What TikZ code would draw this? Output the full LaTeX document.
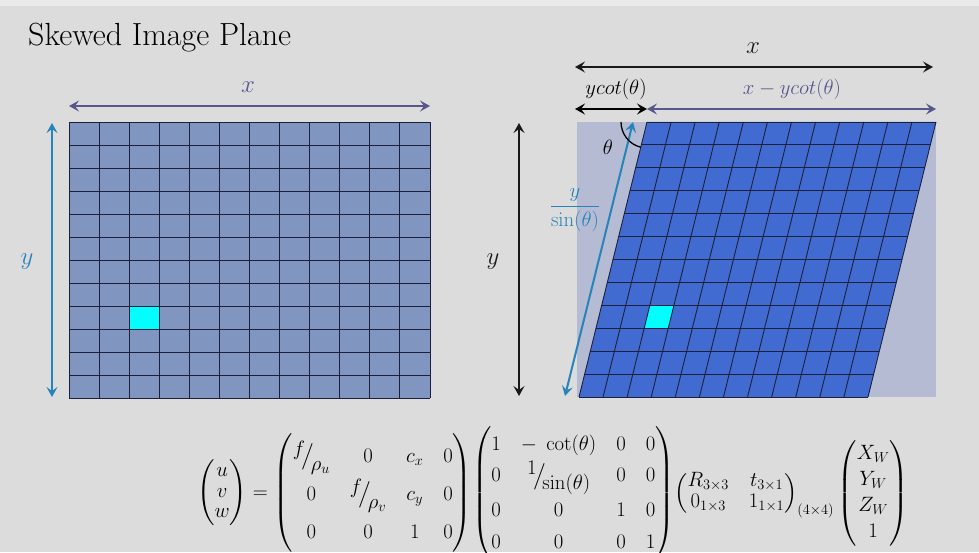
\documentclass[tikz,border=0pt]{standalone}
\usepackage{amsmath,amssymb}
\usepackage{tikz}
\usetikzlibrary{arrows.meta}
\definecolor{bgpage}{RGB}{220,220,220}
\definecolor{topband}{RGB}{234,234,234}
\definecolor{plainpix}{RGB}{128,150,192}
\definecolor{skewpix}{RGB}{66,107,210}
\definecolor{sensorbg}{RGB}{181,187,210}
\definecolor{hotpix}{RGB}{0,255,255}
\definecolor{gridline}{RGB}{28,32,58}
\definecolor{dimpurple}{RGB}{88,86,140}
\definecolor{dimblue}{RGB}{38,132,186}
\definecolor{dimblack}{RGB}{25,25,25}
\newcommand{\slashfrac}[2]{\raisebox{0.32em}{$#1$}\!\big/\!\raisebox{-0.38em}{$#2$}}

\begin{document}
\begin{tikzpicture}[x=1pt,y=-1pt,font=\fontsize{24}{28}\selectfont,
  dim/.style={line width=2pt,{Stealth[length=10pt,width=11pt,inset=4pt]}-{Stealth[length=10pt,width=11pt,inset=4pt]}},
  pixline/.style={draw=gridline,line width=0.9pt}]
\fill[bgpage] (0,0) rectangle (979,552);
\useasboundingbox (0,0) rectangle (979,552);
\fill[topband] (0,0) rectangle (979,6);
\node[anchor=base west, inner sep=0pt, font=\fontsize{32}{35}\selectfont] (title) at (28,45) {Skewed Image Plane};
% plain image plane
\begin{scope}[shift={(69,398)}, x={(30.083pt,0pt)}, y={(0pt,23pt)}]
\fill[plainpix] (0,0) rectangle (12,12);
\fill[hotpix] (2,3) rectangle (3,4);
\foreach \i in {0,...,12} {
  \draw[pixline] (\i,0) -- (\i,12);
  \draw[pixline] (0,\i) -- (12,\i);
}
\end{scope}
\coordinate (plainxL) at (69,106);
\coordinate (plainxR) at (430,106);
\coordinate (plainyT) at (52,123);
\coordinate (plainyB) at (52,397);
\draw[dim, dimpurple] (plainxL) -- (plainxR);
\node[dimpurple] (plainxlab) at (248,87) {$x$};
\draw[dim, dimblue] (plainyT) -- (plainyB);
\node[dimblue] (plainylab) at (27,262) {$y$};
% skewed image plane
\fill[sensorbg] (577,122) rectangle (936,397);
\begin{scope}[shift={(579,397)}, x={(24.083pt,0pt)}, y={(5.667pt,22.917pt)}]
\fill[skewpix] (0,0) -- (12,0) -- (12,12) -- (0,12) -- cycle;
\fill[hotpix] (2,3) -- (3,3) -- (3,4) -- (2,4) -- cycle;
\foreach \i in {0,...,12} {
  \draw[pixline] (\i,0) -- (\i,12);
  \draw[pixline] (0,\i) -- (12,\i);
}
\end{scope}
\coordinate (skewTL) at (647,122);
\coordinate (skewxL) at (575,67);
\coordinate (skewxR) at (933,67);
\coordinate (cotL) at (575,109);
\coordinate (cotM) at (647,109);
\coordinate (cotR) at (936,109);
\coordinate (skewyT) at (519,123);
\coordinate (skewyB) at (519,396);
\coordinate (slantT) at (633,122);
\coordinate (slantB) at (565,396);
\draw[dim, dimblack] (skewxL) -- (skewxR);
\node[dimblack] (skewxlab) at (753,48) {$x$};
\draw[dim, black] (cotL) -- (cotM);
\draw[dim, dimpurple] (cotM) -- (cotR);
\node[black, font=\fontsize{22}{26}\selectfont] (cotlab) at (616,89) {$ycot(\theta)$};
\node[dimpurple, font=\fontsize{22}{26}\selectfont] (restlab) at (792,89) {$x-ycot(\theta)$};
\draw[dim, dimblack] (skewyT) -- (skewyB);
\node[dimblack] (skewylab) at (493,262) {$y$};
\draw[dim, dimblue] (slantT) -- (slantB);
\node[dimblue, font=\fontsize{20}{24}\selectfont] (slantlab) at (575,210) {$\dfrac{y}{\sin(\theta)}$};
\draw[line width=1.3pt] (skewTL) ++(180:26) arc[start angle=180, end angle=103.9, radius=26];
\node[font=\fontsize{20}{24}\selectfont] (thetalab) at (608,147) {$\theta$};
% projection equation
\node[font=\fontsize{22}{26}\selectfont] (projeq) at (553,493) {\setlength{\arraycolsep}{10pt}$
{\renewcommand{\arraystretch}{0.78}\begin{pmatrix} u\\ v\\ w\end{pmatrix}}=
{\renewcommand{\arraystretch}{1.42}\begin{pmatrix} \slashfrac{f}{\rho_u} & 0 & c_x & 0\\ 0 & \slashfrac{f}{\rho_v} & c_y & 0\\ 0 & 0 & 1 & 0\end{pmatrix}}
{\renewcommand{\arraystretch}{1.2}\begin{pmatrix} 1 & -\;\cot(\theta) & 0 & 0\\ 0 & \slashfrac{1}{\sin(\theta)} & 0 & 0\\ 0 & 0 & 1 & 0\\ 0 & 0 & 0 & 1\end{pmatrix}}
{\renewcommand{\arraystretch}{0.8}\begin{pmatrix} R_{3\times3} & t_{3\times1}\\ 0_{1\times3} & 1_{1\times1}\end{pmatrix}_{(4\times4)}}
\begin{pmatrix} X_W\\ Y_W\\ Z_W\\ 1\end{pmatrix}$};
\end{tikzpicture}
\end{document}
